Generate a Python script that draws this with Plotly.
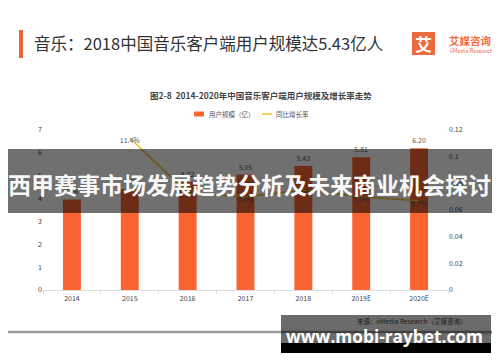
import plotly.graph_objects as go

# ---- data ----
years = ["2014", "2015", "2016", "2017", "2018", "2019E", "2020E"]
users = [3.96, 4.41, 4.72, 5.05, 5.43, 5.81, 6.20]          # 用户规模（亿）
growth = [None, 0.114, 0.073, 0.070, 0.075, 0.070, 0.067]   # 同比增长率
left_ticks = [0, 1, 2, 3, 4, 5, 6, 7]
right_ticks = [0, 0.02, 0.04, 0.06, 0.08, 0.1, 0.12]
right_tick_text = ["0", "0.02", "0.04", "0.06", "0.08", "0.1", "0.12"]

FONT = "Noto Sans CJK SC"
ORANGE = "#F96432"
GOLD = "#F0C030"

# page body has an 8px margin; figure is sized to fill the rest of the window
OFF = 8
W, H = 500 - OFF, 362 - OFF
# plot-area geometry in window pixels
L, R, T, B = 43, 448, 130, 290


def px(x):
    return (x - OFF) / W


def py(y):
    return 1 - (y - OFF) / H


fig = go.Figure()
fig.add_trace(go.Bar(
    x=years, y=users, name="用户规模（亿）", marker_color=ORANGE, width=0.31,
    texttemplate="%{y:.2f}", textposition="outside", cliponaxis=False,
    textfont=dict(size=7, color="#555", family=FONT), showlegend=False,
))
fig.add_trace(go.Scatter(
    x=years, y=growth, name="同比增长率", mode="lines+text", yaxis="y2",
    line=dict(color=GOLD, width=1.5), texttemplate="%{y:.1%}",
    textposition="bottom center", cliponaxis=False,
    textfont=dict(size=7, color="#555", family=FONT), showlegend=False,
))

fig.update_layout(
    template="none",
    width=W, height=H, autosize=False,
    margin=dict(l=0, r=0, t=0, b=0, pad=0),
    paper_bgcolor="white", plot_bgcolor="white",
    font=dict(family=FONT, size=7, color="#555"),
    showlegend=False,
    xaxis=dict(type="category", domain=[px(L), px(R)], automargin=False, showgrid=False,
               showline=True, linecolor="#dddddd", linewidth=1, tickangle=0,
               ticks="outside", tickson="boundaries", ticklen=3, tickcolor="#dddddd",
               ticklabelstandoff=2, tickfont=dict(size=7, color="#444")),
    yaxis=dict(domain=[py(B), py(T)], automargin=False, range=[0, 7], tickvals=left_ticks,
               showgrid=False, zeroline=False, showline=False, ticks="",
               tickfont=dict(size=7, color="#444")),
    yaxis2=dict(range=[0, 0.12], tickvals=right_ticks, ticktext=right_tick_text,
                overlaying="y", side="right", showgrid=False, zeroline=False, automargin=False,
                showline=False, ticks="", tickfont=dict(size=7, color="#444")),
)

shapes = []
ann = []


def note(text, x, y, size, color, xanchor="center", family=FONT):
    ann.append(dict(text=text, x=px(x), y=py(y), xref="paper", yref="paper",
                    xanchor=xanchor, yanchor="middle", showarrow=False,
                    font=dict(size=size, color=color, family=family)))


def box(x0, x1, y0, y1, color, layer="below"):
    shapes.append(dict(type="rect", xref="paper", yref="paper", x0=px(x0), x1=px(x1),
                       y0=py(y1), y1=py(y0), fillcolor=color, line_width=0, layer=layer))


# header: orange bar + title
box(19, 23, 30, 58, "#F0643A")
note("音乐：2018中国音乐客户端用户规模达5.43亿人", 32, 43, 16.5, "#333", "left")
# logo
box(412, 435, 32, 55, "#EE6A3C")
note("<b>艾</b>", 423.5, 43.5, 17, "white")
note("<b>艾媒咨询</b>", 447, 40, 10.5, "#EE6A3C", "left")
note("iiMedia Research", 448, 51, 5.5, "#EE6A3C", "left")

# chart title
note("<b>图2-8  2014-2020年中国音乐客户端用户规模及增长率走势</b>", 261, 95, 8.5, "#444")

# manual legend
box(194, 204, 111.5, 116.5, ORANGE)
note("用户规模（亿）", 207, 114, 6.5, "#555", "left")
shapes.append(dict(type="line", xref="paper", yref="paper", x0=px(262), x1=px(272),
                   y0=py(114), y1=py(114), line=dict(color=GOLD, width=1.5)))
note("同比增长率", 274, 114, 6.5, "#555", "left")

# bottom rule line
shapes.append(dict(type="line", xref="paper", yref="paper", x0=0, x1=1,
                   y0=py(332), y1=py(332), layer="above",
                   line=dict(color="#9a9a9a", width=2.5)))
ann.append(dict(text="Research Inc", x=1, y=py(333), xref="paper", yref="paper",
                xanchor="right", yanchor="middle", showarrow=False,
                font=dict(size=5.5, color="#444", family=FONT)))

# banner overlay
box(8, 492, 149, 213, "rgba(0,0,0,0.56)", "above")
note("<b>西甲赛事市场发展趋势分析及未来商业机会探讨</b>", 249.5, 184, 23, "#f8f8f8")

# bottom watermark box
box(281, 491, 315, 343, "rgba(0,0,0,0.58)", "above")
box(281, 491, 343, 353, "black", "above")
note("来源：iiMedia Research（艾媒咨询）", 411, 321, 6.5, "#1a1a1a")
note("<b>www.mobi-raybet.com</b>", 384, 336, 17.3, "white", family="Open Sans")

fig.update_layout(shapes=shapes, annotations=ann)
fig.write_html("out.html")
